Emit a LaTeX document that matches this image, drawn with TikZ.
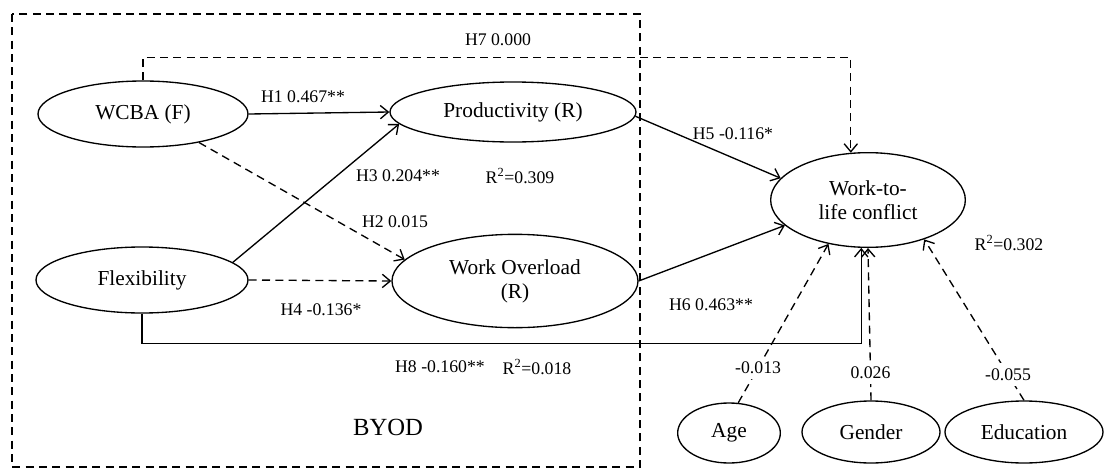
\documentclass[tikz,border=0pt]{standalone}
\usepackage{fontspec}
\setmainfont{Liberation Serif}
\usetikzlibrary{shapes.geometric,arrows.meta}

\begin{document}
\begin{tikzpicture}[x=0.75pt,y=0.75pt,yscale=-1,xscale=1,
  construct/.style={draw, ellipse, line width=1pt, inner sep=0pt, align=center, font=\fontsize{16}{18}\selectfont},
  effect/.style={line width=1pt, -{Straight Barb[length=6pt,width=10pt]}},
  weak/.style={effect, dash pattern={on 6pt off 4pt}},
  coef/.style={font=\fontsize{13.3}{15}\selectfont, inner sep=1pt},
  onlink/.style={coef, fill=white, inner sep=4pt}]
\useasboundingbox (0,0) rectangle (1104,468);

%BYOD frame
\draw [line width=0.8pt, dash pattern={on 6pt off 4pt}] (12,14) rectangle (640,467);
\node [font=\fontsize{18.5}{20}\selectfont] (byod) at (388,427) {BYOD};

%Constructs
\node [construct, minimum width=157.5pt, minimum height=49.5pt] (wcba) at (143,114) {WCBA (F)};
\node [construct, minimum width=184.5pt, minimum height=45pt] (prod) at (513,112) {Productivity (R)};
\node [construct, minimum width=159pt, minimum height=49.5pt] (flex) at (142,280) {Flexibility};
\node [construct, minimum width=184.5pt, minimum height=70pt] (wo) at (515,281) {Work Overload\\(R)};
\node [construct, minimum width=146pt, minimum height=71pt] (wtl) at (868,200) {Work-to-\\life conflict};

%Controls
\node [construct, minimum width=77pt, minimum height=45pt] (age) at (729,433) {Age};
\node [construct, minimum width=103.5pt, minimum height=46.5pt] (gender) at (871,432) {Gender};
\node [construct, minimum width=118.5pt, minimum height=46.5pt] (edu) at (1024,432) {Education};

%Paths H1 - H8
\draw [effect] (wcba.east) -- (prod.west);
\draw [weak] (wcba.-27) -- (wo.169);
\draw [effect] (flex.11) -- (prod.186);
\draw [weak] (flex.east) -- (wo.west);
\draw [effect] (prod.-2) -- (wtl.166);
\draw [effect] (wo.east) -- (wtl.197);
\draw [weak] (wcba.north) -- ++(0,-23) -| (wtl.110);
\draw [effect] (flex.south) -- ++(0,30) -| (wtl.262);

%Control paths
\draw [weak] (age.73) -- node [onlink, pos=0.22] (cAge) {-0.013} (wtl.228);
\draw [weak] (gender.north) -- node [onlink, pos=0.18] (cGender) {0.026} (wtl.south);
\draw [weak] (edu.north) -- node [onlink, pos=0.16] (cEdu) {-0.055} (wtl.-35);

% Text Node
\node [coef] (lH1) at (303,97) {H1 0.467**};
\node [coef] (lH2) at (395,222) {H2 0.015};
\node [coef] (lH3) at (398,176) {H3 0.204**};
\node [coef] (lH4) at (321,310) {H4 -0.136*};
\node [coef] (lH5) at (733,134) {H5 -0.116*};
\node [coef] (lH6) at (711,305) {H6 0.463**};
\node [coef] (lH7) at (498,40) {H7 0.000};
\node [coef] (lH8) at (440,367) {H8 -0.160**};
% R squared
\node [coef] (rProd) at (520,176) {R\textsuperscript{2}=0.309};
\node [coef] (rWo) at (537,367) {R\textsuperscript{2}=0.018};
\node [coef] (rWtl) at (1009,243) {R\textsuperscript{2}=0.302};

\end{tikzpicture}
\end{document}
